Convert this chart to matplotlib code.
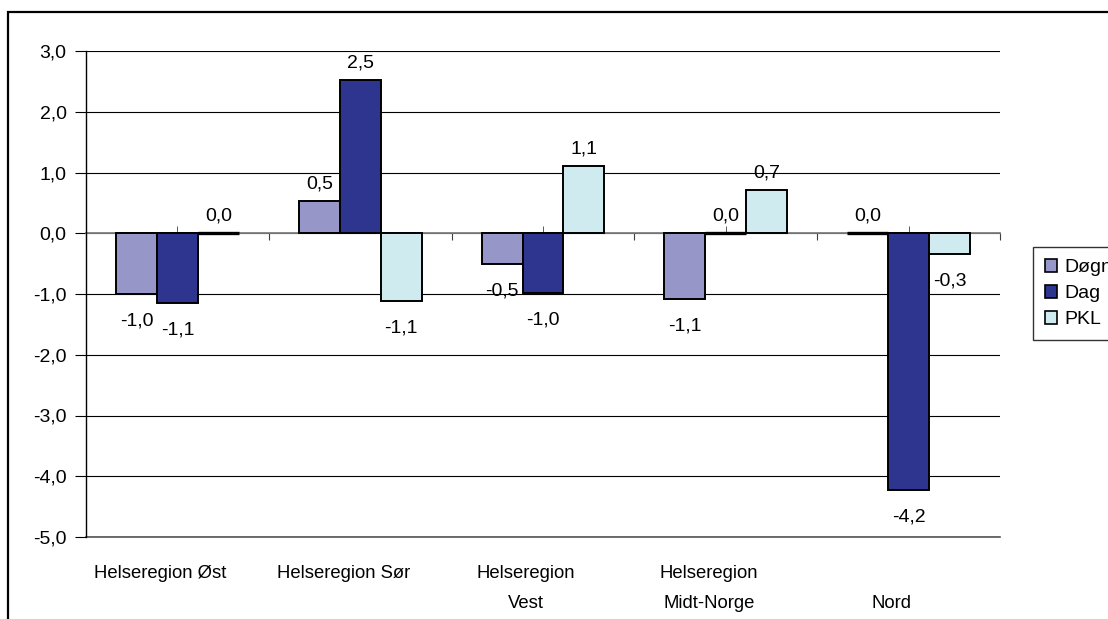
import matplotlib.pyplot as plt
import matplotlib.transforms as mtransforms
from matplotlib.patches import Rectangle, Patch
import numpy as np

plt.rcParams['font.family'] = ['Liberation Sans', 'DejaVu Sans']

# data
regions = ["Helseregion Øst", "Helseregion Sør", "Helseregion\nVest",
           "Helseregion\nMidt-Norge", "\nNord"]
dogn = [-1.0, 0.53, -0.51, -1.09, 0.0]
dag = [-1.14, 2.53, -0.99, 0.0, -4.22]
pkl = [0.0, -1.11, 1.11, 0.71, -0.34]
series_names = ["Døgn", "Dag", "PKL"]
colors = ["#9696C8", "#2E358E", "#CFEBEF"]
yticks = [3, 2, 1, 0, -1, -2, -3, -4, -5]

fig = plt.figure(figsize=(11.08, 6.19), dpi=100)
ax = fig.add_axes([86 / 1108, 1 - 537 / 619, 914 / 1108, 486 / 619])

x = np.arange(len(regions))
w = 0.224
handles = []
for k, (vals, name, col) in enumerate(zip([dogn, dag, pkl], series_names, colors)):
    pos = x + (k - 1) * w
    lws = [2.4 if v == 0 else 1.4 for v in vals]  # zero bars show as a thick line
    ax.bar(pos, vals, width=w, color=col, edgecolor="black", linewidth=lws, zorder=3)
    for px, v in zip(pos, vals):
        off = 17 if v >= 0 else -27
        ax.annotate(f"{v:.1f}".replace(".", ","), (px, v), xytext=(0, off),
                    textcoords="offset pixels", ha="center", va="center",
                    fontsize=14, zorder=4)
    handles.append(Patch(facecolor=col, edgecolor="black", linewidth=1.2, label=name))

ax.set_xlim(-0.5, len(regions) - 0.5)
ax.set_ylim(-5, 3)
ax.set_yticks(yticks)
ax.set_yticklabels([f"{t:.1f}".replace(".", ",") for t in yticks], fontsize=14)
ax.yaxis.grid(True, color="black", linewidth=0.8, zorder=0)
ax.axhline(-5, color="#555555", linewidth=1.2, clip_on=False, zorder=1)
ax.tick_params(axis="y", length=8, width=0.8, pad=6)

for s in ["top", "right"]:
    ax.spines[s].set_visible(False)
ax.spines["left"].set_linewidth(1.0)
ax.spines["bottom"].set_position(("data", 0))
ax.spines["bottom"].set_color("#808080")
ax.spines["bottom"].set_linewidth(1.3)
ax.spines["bottom"].set_zorder(2)

# category boundaries get ticks below the zero line, centres small ticks above
ax.set_xticks(np.arange(len(regions) + 1) - 0.5)
ax.set_xticklabels([])
ax.set_xticks(x, minor=True)
ax.tick_params(axis="x", which="major", direction="out", length=5, color="#404040")
ax.tick_params(axis="x", which="minor", direction="in", length=5, color="#404040")

shift = mtransforms.ScaledTranslation(-17 / 100, 0, fig.dpi_scale_trans)
for i, lab in enumerate(regions):
    ax.text(i, -0.058, lab, transform=ax.get_xaxis_transform() + shift,
            ha="center", va="top", fontsize=13.3, linespacing=1.95,
            multialignment="center")

leg = fig.legend(handles=handles, loc="upper left",
                 bbox_to_anchor=(1033 / 1108, 1 - 247 / 619), fontsize=14,
                 frameon=True, fancybox=False, handlelength=0.65, handleheight=0.65,
                 handletextpad=0.35, labelspacing=0.45, borderpad=0.6,
                 borderaxespad=0)
leg.get_frame().set_edgecolor("black")
leg.get_frame().set_linewidth(1.0)

fig.add_artist(Rectangle((8 / 1108, -0.2), 1.2, 1.2 - 12 / 619, transform=fig.transFigure,
                         fill=False, edgecolor="black", linewidth=1.6))

fig.savefig("out.png", dpi=100)
